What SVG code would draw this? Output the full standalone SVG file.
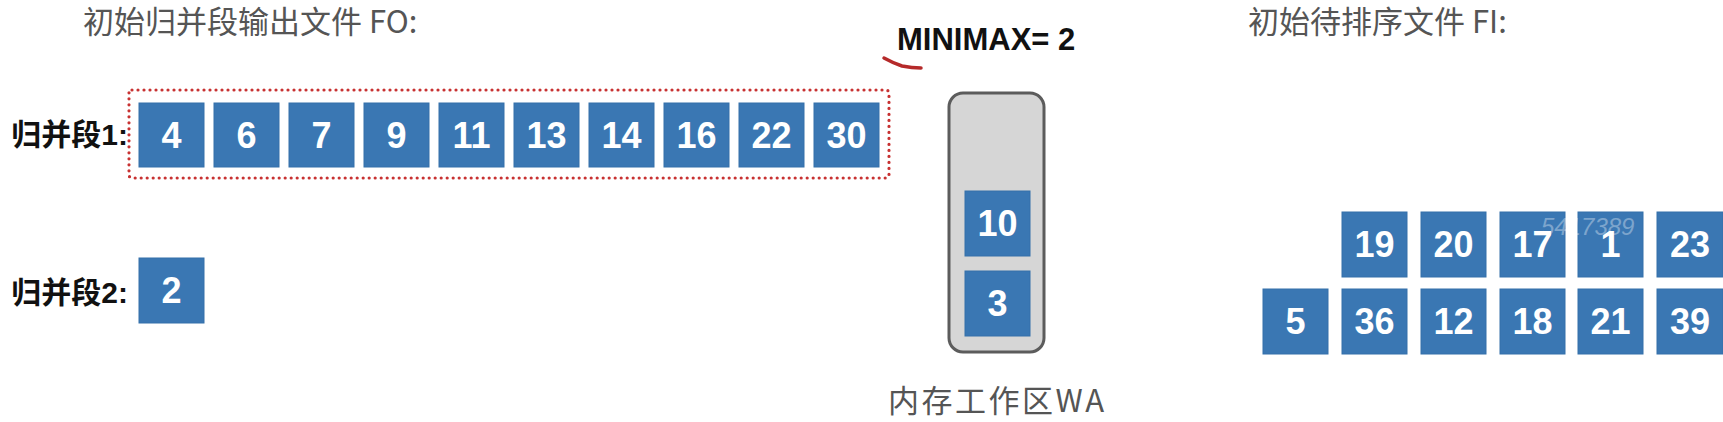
<svg xmlns="http://www.w3.org/2000/svg" width="1723" height="422" viewBox="0 0 1723 422">
<style>
.b{fill:#3a77b3;stroke:#3570aa;stroke-width:1}
.n{font-family:"Liberation Sans",Arial,sans-serif;font-weight:bold;font-size:36px;fill:#ffffff;text-anchor:middle}
.t{font-family:"Noto Sans CJK SC","Liberation Sans",sans-serif;font-size:31px;fill:#555555}
.l{font-family:"Liberation Sans","Noto Sans CJK SC",sans-serif;font-weight:bold;font-size:30px;fill:#111111;text-anchor:end}
</style>
<rect width="1723" height="422" fill="#ffffff"/>
<text class="t" x="83" y="33">初始归并段输出文件 FO:</text>
<text class="t" x="1248" y="33">初始待排序文件 FI:</text>
<text x="897" y="50" font-family="Liberation Sans,Arial,sans-serif" font-weight="bold" font-size="31" fill="#111111">MINIMAX= 2</text>
<path d="M884 58 Q893 63 902 66 Q912 68 921 68" fill="none" stroke="#b52a2a" stroke-width="3.5" stroke-linecap="round"/>
<g id="run1">
<text class="l" x="128" y="145">归并段1:</text>
<rect x="129" y="90" width="760" height="88" rx="3" fill="none" stroke="#c83232" stroke-width="3.2" stroke-dasharray="0 6" stroke-linecap="round"/>
<g id="r1-4"><rect class="b" x="139" y="103" width="65" height="64"/><text class="n" x="171.5" y="148">4</text></g>
<g id="r1-6"><rect class="b" x="214" y="103" width="65" height="64"/><text class="n" x="246.5" y="148">6</text></g>
<g id="r1-7"><rect class="b" x="289" y="103" width="65" height="64"/><text class="n" x="321.5" y="148">7</text></g>
<g id="r1-9"><rect class="b" x="364" y="103" width="65" height="64"/><text class="n" x="396.5" y="148">9</text></g>
<g id="r1-11"><rect class="b" x="439" y="103" width="65" height="64"/><text class="n" x="471.5" y="148">11</text></g>
<g id="r1-13"><rect class="b" x="514" y="103" width="65" height="64"/><text class="n" x="546.5" y="148">13</text></g>
<g id="r1-14"><rect class="b" x="589" y="103" width="65" height="64"/><text class="n" x="621.5" y="148">14</text></g>
<g id="r1-16"><rect class="b" x="664" y="103" width="65" height="64"/><text class="n" x="696.5" y="148">16</text></g>
<g id="r1-22"><rect class="b" x="739" y="103" width="65" height="64"/><text class="n" x="771.5" y="148">22</text></g>
<g id="r1-30"><rect class="b" x="814" y="103" width="65" height="64"/><text class="n" x="846.5" y="148">30</text></g>
</g>
<g id="run2">
<text class="l" x="128" y="303">归并段2:</text>
<g id="r2-2"><rect class="b" x="139" y="258" width="65" height="65"/><text class="n" x="171.5" y="303">2</text></g>
</g>
<g id="wa">
<rect x="949" y="93" width="95" height="259" rx="14" fill="#d6d6d6" stroke="#5c5c5c" stroke-width="3"/>
<g id="wa-10"><rect class="b" x="965" y="191" width="65" height="65"/><text class="n" x="997.5" y="236">10</text></g>
<g id="wa-3"><rect class="b" x="965" y="271" width="65" height="65"/><text class="n" x="997.5" y="316">3</text></g>
<text class="t" x="888" y="412" font-size="33" letter-spacing="2.5">内存工作区WA</text>
</g>
<g id="fi">
<g id="fi-19"><rect class="b" x="1342" y="212" width="65" height="65"/><text class="n" x="1374.5" y="257">19</text></g>
<g id="fi-20"><rect class="b" x="1421" y="212" width="65" height="65"/><text class="n" x="1453.5" y="257">20</text></g>
<g id="fi-17"><rect class="b" x="1500" y="212" width="65" height="65"/><text class="n" x="1532.5" y="257">17</text></g>
<g id="fi-1"><rect class="b" x="1578" y="212" width="65" height="65"/><text class="n" x="1610.5" y="257">1</text></g>
<g id="fi-23"><rect class="b" x="1657" y="212" width="66" height="65"/><text class="n" x="1690" y="257">23</text></g>
<g id="fi-5"><rect class="b" x="1263" y="289" width="65" height="65"/><text class="n" x="1295.5" y="334">5</text></g>
<g id="fi-36"><rect class="b" x="1342" y="289" width="65" height="65"/><text class="n" x="1374.5" y="334">36</text></g>
<g id="fi-12"><rect class="b" x="1421" y="289" width="65" height="65"/><text class="n" x="1453.5" y="334">12</text></g>
<g id="fi-18"><rect class="b" x="1500" y="289" width="65" height="65"/><text class="n" x="1532.5" y="334">18</text></g>
<g id="fi-21"><rect class="b" x="1578" y="289" width="65" height="65"/><text class="n" x="1610.5" y="334">21</text></g>
<g id="fi-39"><rect class="b" x="1657" y="289" width="66" height="65"/><text class="n" x="1690" y="334">39</text></g>
</g>
<text x="1541" y="235" font-family="Liberation Sans,Arial,sans-serif" font-style="italic" font-size="24" fill="#ffffff" fill-opacity="0.35">5417389</text>
<g id="connectors"></g>
</svg>
